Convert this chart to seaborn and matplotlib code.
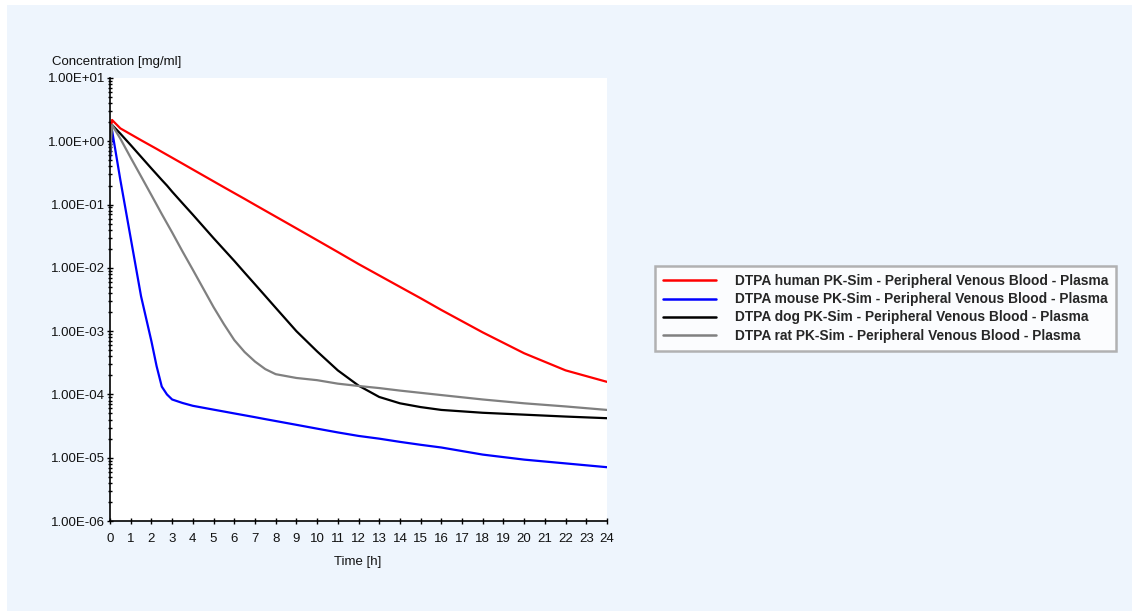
import numpy as np
import pandas as pd
import matplotlib
matplotlib.use("Agg")
import matplotlib.pyplot as plt
from matplotlib.patches import Rectangle
from matplotlib.ticker import FixedLocator, FixedFormatter, LogLocator, NullFormatter
import seaborn as sns

# ---------------- data ----------------
time_h = [0, 0.1, 0.5, 1, 1.5, 2, 2.25, 2.5, 2.75, 3, 3.5, 4, 5, 5.5, 6, 6.5, 7, 7.5, 8, 9, 10,
          11, 12, 13, 14, 15, 16, 18, 20, 22, 24]

human = [1.41, 2.17, 1.60, 1.29, 1.04, 0.843, 0.759, 0.681, 0.612, 0.550, 0.444, 0.358, 0.233,
         0.188, 0.152, 0.123, 0.0991, 0.080, 0.0646, 0.0421, 0.0274, 0.0178, 0.0115, 0.00759,
         0.00501, 0.00331, 0.00216, 0.000955, 0.000447, 0.000240, 0.000158]
mouse = [0.501, 1.48, 0.245, 0.0295, 0.00355, 0.000692, 0.00028, 0.000133, 0.000100, 8.32e-5,
         7.33e-5, 6.61e-5, 5.75e-5, 5.37e-5, 5.01e-5, 4.68e-5, 4.37e-5, 4.07e-5, 3.80e-5,
         3.31e-5, 2.88e-5, 2.51e-5, 2.21e-5, 2.0e-5, 1.78e-5, 1.60e-5, 1.45e-5, 1.12e-5,
         9.33e-6, 8.13e-6, 7.08e-6]
dog = [0.603, 1.81, 1.32, 0.871, 0.569, 0.372, 0.302, 0.245, 0.200, 0.160, 0.105, 0.0692,
       0.0295, 0.0195, 0.0129, 0.0084, 0.00550, 0.00359, 0.00234, 0.00100, 0.000479, 0.000240,
       0.000138, 9.12e-5, 7.24e-5, 6.31e-5, 5.69e-5, 5.13e-5, 4.79e-5, 4.47e-5, 4.21e-5]
rat = [0.603, 1.81, 1.10, 0.550, 0.279, 0.141, 0.100, 0.0708, 0.0507, 0.0363, 0.0182, 0.00933,
       0.00240, 0.00129, 0.000724, 0.000468, 0.000331, 0.000251, 0.000209, 0.000182, 0.000168,
       0.000148, 0.000136, 0.000126, 0.000115, 0.000106, 9.77e-5, 8.32e-5, 7.24e-5, 6.46e-5,
       5.69e-5]

series_names = [
    "DTPA human PK-Sim - Peripheral Venous Blood - Plasma",
    "DTPA mouse PK-Sim - Peripheral Venous Blood - Plasma",
    "DTPA dog PK-Sim - Peripheral Venous Blood - Plasma",
    "DTPA rat PK-Sim - Peripheral Venous Blood - Plasma",
]
series_colors = ["#FF0000", "#0000FF", "#000000", "#808080"]
x_ticks = list(range(0, 25))
y_ticks = [1e-6, 1e-5, 1e-4, 1e-3, 1e-2, 1e-1, 1e0, 1e1]
y_tick_labels = ["1.00E-06", "1.00E-05", "1.00E-04", "1.00E-03", "1.00E-02", "1.00E-01",
                 "1.00E+00", "1.00E+01"]

# ---------------- build table ----------------
frames = []
for name, vals in zip(series_names, [human, mouse, dog, rat]):
    frames.append(pd.DataFrame({"Time": time_h, "Conc": vals, "Series": name}))
df = pd.concat(frames, ignore_index=True)

sns.set_style("white")
plt.rcParams["font.family"] = ["Liberation Sans", "DejaVu Sans"]

W, H = 1132, 611
fig = plt.figure(figsize=(W / 100, H / 100), dpi=100, facecolor="white")
bg = Rectangle((7 / W, 0), 1 - 7 / W, 1 - 5 / H, transform=fig.transFigure,
               facecolor="#EEF5FD", edgecolor="none", zorder=-10)
fig.patches.append(bg)

ax = fig.add_axes([110 / W, 90 / H, 497 / W, 443 / H])
ax.set_facecolor("white")

sns.lineplot(data=df, x="Time", y="Conc", hue="Series", hue_order=series_names,
             palette=dict(zip(series_names, series_colors)), linewidth=1.6, ax=ax,
             estimator=None, sort=False)

ax.set_yscale("log")
ax.set_xlim(0, 24)
ax.set_ylim(1e-6, 1e1)
ax.yaxis.set_major_locator(FixedLocator(y_ticks))
ax.yaxis.set_major_formatter(FixedFormatter(y_tick_labels))
ax.yaxis.set_minor_locator(LogLocator(base=10, subs=np.arange(2, 10), numticks=20))
ax.yaxis.set_minor_formatter(NullFormatter())
ax.set_xticks(x_ticks)
ax.set_xticklabels([str(v) for v in x_ticks])

for s in ["top", "right"]:
    ax.spines[s].set_visible(False)
for s in ["left", "bottom"]:
    ax.spines[s].set_color("black")
    ax.spines[s].set_linewidth(1.2)

ax.tick_params(axis="both", which="both", bottom=True, left=True, top=False, right=False)
ax.tick_params(axis="both", which="major", direction="inout", length=5, width=1,
               color="black", labelsize=9.5, labelcolor="#111111")
ax.tick_params(axis="y", which="major", pad=1)
ax.tick_params(axis="y", which="minor", direction="inout", length=3.5, width=1, color="black")
ax.tick_params(axis="x", which="major", pad=6)

ax.set_xlabel("")
ax.set_ylabel("")
fig.text(358 / W, 1 - 562 / H, "Time [h]", ha="center", va="center", fontsize=9.5, color="#111111")
fig.text(52 / W, 1 - 62 / H, "Concentration [mg/ml]", ha="left", va="center", fontsize=9.5,
         color="#111111")

handles, labels = ax.get_legend_handles_labels()
if ax.get_legend():
    ax.get_legend().remove()
leg = ax.legend(handles, labels, loc="upper left", bbox_to_anchor=(655 / W, 1 - 266 / H),
                bbox_transform=fig.transFigure, borderaxespad=0, frameon=True, fancybox=False,
                handlelength=3.8, handletextpad=1.4, labelspacing=0.3, borderpad=0.6,
                prop={"weight": "bold", "size": 9.9})
leg.get_frame().set_edgecolor("#A0A0A0")
leg.get_frame().set_linewidth(1.8)
leg.get_frame().set_facecolor("white")
for line in leg.get_lines():
    line.set_linewidth(1.8)

fig.savefig("out.png", dpi=100, facecolor=fig.get_facecolor())
